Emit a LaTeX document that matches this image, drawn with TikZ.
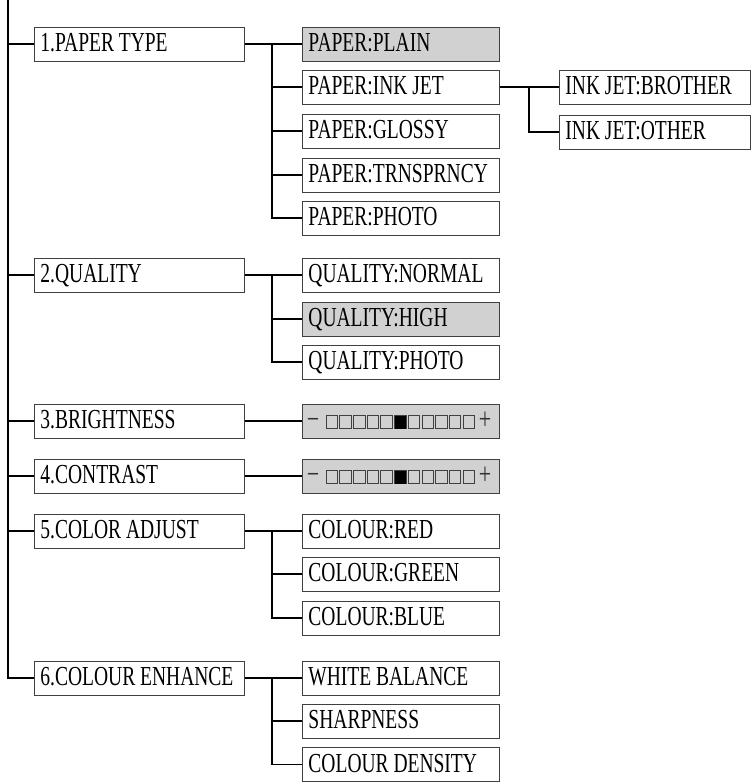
\documentclass[tikz,border=0pt]{standalone}
\usepackage{fontspec}
\setmainfont{Liberation Serif}[FakeStretch=0.71]
\begin{document}
\begin{tikzpicture}[x=1pt,y=-1pt,
  box/.style={draw=black!75, line width=0.9pt, anchor=west, minimum height=34pt,
    inner xsep=6pt, inner ysep=0pt, text height=18pt, text depth=3pt, align=left,
    font=\fontsize{27.5}{30}\selectfont,
    execute at begin node={\spaceskip=4.8pt\relax\hyphenpenalty=10000\relax}},
  lbox/.style={box, text width=198pt},
  rbox/.style={box, text width=185pt},
  xbox/.style={box, text width=179pt},
  sel/.style={fill=black!18},
  link/.style={line width=1.8pt, black},
  sym/.style={anchor=base, inner sep=0pt, text=black!80, font=\fontsize{31}{32}\selectfont},
  sq/.style={draw=black!75, line width=0.8pt},
]
\useasboundingbox (0,0) rectangle (752,782);

% level 1
\node[lbox] (b1) at (34,44)  {\mbox{1.PAPER TYPE}};
\node[lbox] (b2) at (34,275) {2.QUALITY};
\node[lbox] (b3) at (34,421) {3.BRIGHTNESS};
\node[lbox] (b4) at (34,476) {4.CONTRAST};
\node[lbox] (b5) at (34,531) {\mbox{5.COLOR ADJUST}};
\node[lbox] (b6) at (34,678) {\mbox{6.COLOUR ENHANCE}};

% level 2
\node[rbox,sel] (p1) at (302,44)  {PAPER:PLAIN};
\node[rbox] (p2) at (302,87)  {\mbox{PAPER:INK JET}};
\node[rbox] (p3) at (302,131) {PAPER:GLOSSY};
\node[rbox] (p4) at (302,175) {PAPER:TRNSPRNCY};
\node[rbox] (p5) at (302,218) {PAPER:PHOTO};

\node[rbox] (q1) at (302,275) {QUALITY:NORMAL};
\node[rbox,sel] (q2) at (302,319) {QUALITY:HIGH};
\node[rbox] (q3) at (302,362) {QUALITY:PHOTO};

\node[rbox,sel] (bar1) at (302,421) {};
\node[rbox,sel] (bar2) at (302,476) {};

\node[rbox] (c1) at (302,531) {COLOUR:RED};
\node[rbox] (c2) at (302,574) {COLOUR:GREEN};
\node[rbox] (c3) at (302,618) {COLOUR:BLUE};

\node[rbox] (w1) at (302,678) {\mbox{WHITE BALANCE}};
\node[rbox] (w2) at (302,721) {SHARPNESS};
\node[rbox] (w3) at (302,764.5) {\mbox{COLOUR DENSITY}};

% level 3
\node[xbox] (i1) at (559,87)  {\mbox{INK JET:BROTHER}};
\node[xbox] (i2) at (559,132) {\mbox{INK JET:OTHER}};

% bar contents
\foreach \bar/\yy in {bar1/421, bar2/476}{
  \node[sym] (\bar m) at (313,\yy+8.5) {−};
  \node[sym] (\bar p) at (485,\yy+8.5) {+};
  \foreach \i in {0,...,10}{
    \draw[sq] (326+\i*13.7,\yy-5.5) rectangle ++(11.5,13);
  }
  \fill[black] (326+5*13.7,\yy-5.5) rectangle ++(11.5,13);
}

% connectors
\coordinate (top) at (8,0);
\coordinate (va) at (272,0);
\coordinate (vb) at (529,0);

\draw[link] (top) |- (b6.west);
\foreach \n in {b1,b2,b3,b4,b5}{ \draw[link] (top |- \n.west) -- (\n.west); }

\draw[link] (b1.east) -- (p1.west);
\draw[link] (b1.east -| va) |- (p5.west);
\foreach \n in {p2,p3,p4}{ \draw[link] (va |- \n.west) -- (\n.west); }

\draw[link] (p2.east) -- (i1.west);
\draw[link] (p2.east -| vb) |- (i2.west);

\draw[link] (b2.east) -- (q1.west);
\draw[link] (b2.east -| va) |- (q3.west);
\draw[link] (va |- q2.west) -- (q2.west);

\draw[link] (b3.east) -- (bar1.west);
\draw[link] (b4.east) -- (bar2.west);

\draw[link] (b5.east) -- (c1.west);
\draw[link] (b5.east -| va) |- (c3.west);
\draw[link] (va |- c2.west) -- (c2.west);

\draw[link] (b6.east) -- (w1.west);
\draw[link] (b6.east -| va) |- (w3.west);
\draw[link] (va |- w2.west) -- (w2.west);
\end{tikzpicture}
\end{document}
